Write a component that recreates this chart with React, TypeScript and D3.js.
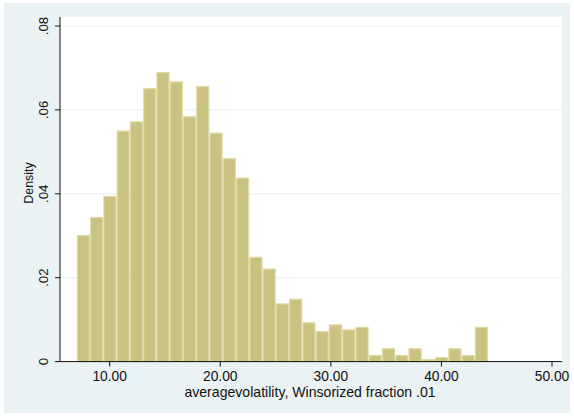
import React from "react";
import * as d3 from "d3";

const binStart = 7.02;
const binWidth = 1.2;
const densities = [
  0.0302, 0.0345, 0.0395, 0.0551, 0.0573, 0.0652, 0.069, 0.0668, 0.0585, 0.0657,
  0.0546, 0.0485, 0.0439, 0.025, 0.0222, 0.0139, 0.015, 0.0094, 0.0073, 0.0089,
  0.0077, 0.0083, 0.0016, 0.0032, 0.0016, 0.0032, 0.0006, 0.0011, 0.0032, 0.0016,
  0.0083,
];
const xTicks = [10, 20, 30, 40, 50];
const yTicks = [0, 0.02, 0.04, 0.06, 0.08];
const xTitle = "averagevolatility, Winsorized fraction .01";
const yTitle = "Density";

const W = 574;
const H = 416;
const plotL = 60;
const plotR = 562;
const plotT = 17;
const plotB = 361.6;

export default function App() {
  const x = d3.scaleLinear().domain([10, 50]).range([109.7, 552]);
  const y = d3.scaleLinear().domain([0, 0.08]).range([plotB, 26]);
  const font = "'Liberation Sans', Arial, Helvetica, sans-serif";
  const yFmt = (v: number) => (v === 0 ? "0" : d3.format(".2f")(v).replace(/^0/, ""));
  const xFmt = d3.format(".2f");

  return (
    <svg width={W} height={H} style={{ position: "absolute", left: 0, top: 0 }}>
      <rect x={0} y={0} width={W} height={H} fill="#ffffff" />
      <rect x={4} y={3} width={566} height={410} fill="#EAF2F3" />
      <rect x={plotL} y={plotT} width={plotR - plotL} height={plotB - plotT} fill="#ffffff" />
      {yTicks.filter((t) => t > 0).map((t) => (
        <line key={"g" + t} x1={plotL} x2={plotR} y1={y(t)} y2={y(t)} stroke="#EAF2F3" strokeWidth={1.2} />
      ))}
      {densities.map((d, i) => {
        const x0 = x(binStart + i * binWidth);
        const x1 = x(binStart + (i + 1) * binWidth);
        return (
          <rect
            key={"b" + i}
            x={x0 + 0.6}
            y={y(d) + 0.6}
            width={x1 - x0 - 1.2}
            height={Math.max(0, plotB - y(d) - 0.6)}
            fill="#C9C281"
            stroke="#DEDAA5"
            strokeWidth={1.2}
          />
        );
      })}
      <line x1={plotL} x2={plotL} y1={plotT} y2={plotB} stroke="#111" strokeWidth={1} />
      <line x1={plotL} x2={plotR} y1={plotB} y2={plotB} stroke="#111" strokeWidth={1} />
      {yTicks.map((t) => (
        <g key={"y" + t}>
          <line x1={plotL - 5} x2={plotL} y1={y(t)} y2={y(t)} stroke="#111" strokeWidth={1} />
          <text
            transform={`translate(48,${y(t)}) rotate(-90)`}
            textAnchor="middle"
            fontFamily={font}
            fontSize={13.2}
            fill="#111"
          >
            {yFmt(t)}
          </text>
        </g>
      ))}
      {xTicks.map((t) => (
        <g key={"x" + t}>
          <line x1={x(t)} x2={x(t)} y1={plotB} y2={plotB + 5} stroke="#111" strokeWidth={1} />
          <text x={x(t)} y={381} textAnchor="middle" fontFamily={font} fontSize={13.8} fill="#111">
            {xFmt(t)}
          </text>
        </g>
      ))}
      <text x={310} y={396.7} textAnchor="middle" fontFamily={font} fontSize={14.1} fill="#111">
        {xTitle}
      </text>
      <text
        transform={`translate(32.5,183) rotate(-90)`}
        textAnchor="middle"
        fontFamily={font}
        fontSize={12.4}
        fill="#111"
      >
        {yTitle}
      </text>
    </svg>
  );
}
